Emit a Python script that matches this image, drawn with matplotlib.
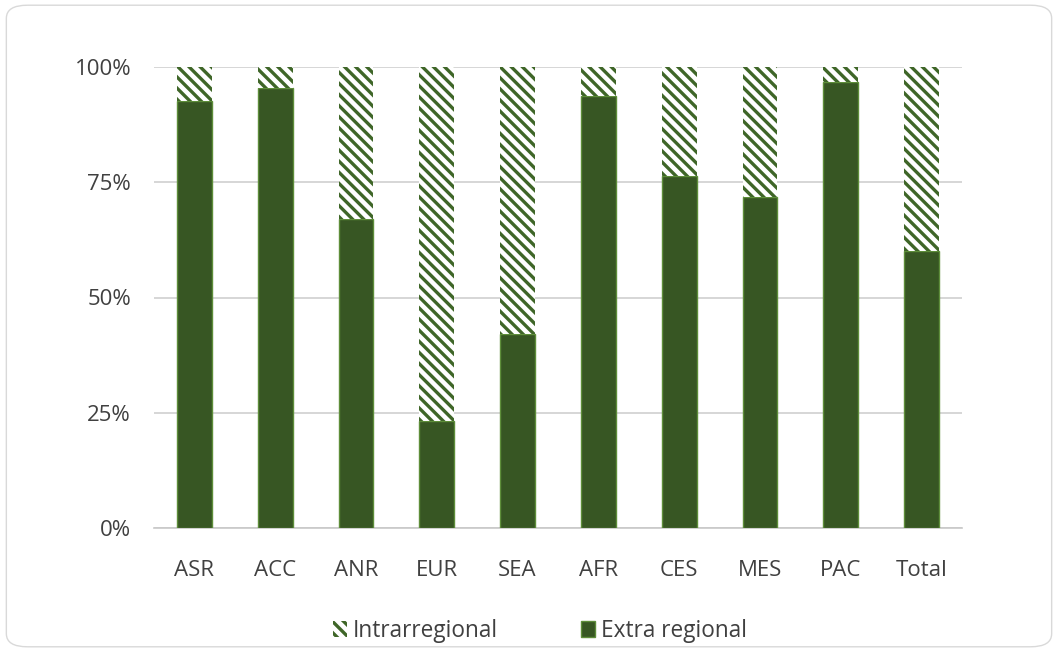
import matplotlib
matplotlib.use("Agg")
import matplotlib.pyplot as plt
from matplotlib.patches import FancyBboxPatch
import numpy as np

categories = ["ASR", "ACC", "ANR", "EUR", "SEA", "AFR", "CES", "MES", "PAC", "Total"]
extra_regional = [92.6, 95.4, 67.0, 23.2, 42.1, 93.7, 76.4, 71.8, 96.7, 60.1]
intra_regional = [100 - v for v in extra_regional]
yticks = [0, 25, 50, 75, 100]
ytick_labels = ["0%", "25%", "50%", "75%", "100%"]

plt.rcParams['font.family'] = ['Open Sans', 'DejaVu Sans']
plt.rcParams['hatch.linewidth'] = 2.4

dark = "#375623"
edge = "#5E8E3A"
hatch_col = "#3F6628"
txt = "#404040"

fig = plt.figure(figsize=(10.58, 6.52), dpi=100)
border = FancyBboxPatch((0.006, 0.008), 0.988, 0.984, boxstyle="round,pad=0,rounding_size=0.02",
                        transform=fig.transFigure, fill=False, edgecolor="#d9d9d9", linewidth=1.0)
fig.patches.append(border)

ax = fig.add_axes([154/1058, 1 - 528/652, (962-154)/1058, (528-67)/652])
x = np.arange(len(categories))
w = 0.43
ax.bar(x, extra_regional, width=w, color=dark, edgecolor=edge, linewidth=1.0,
       label="Extra regional", zorder=3)
plt.rcParams['hatch.color'] = hatch_col
ax.bar(x, intra_regional, width=w, bottom=extra_regional, color="white",
       edgecolor=hatch_col, hatch="\\\\\\", linewidth=0, label="Intrarregional", zorder=3)

ax.set_xlim(-0.5, len(categories) - 0.5)
ax.set_ylim(0, 100)
ax.set_yticks(yticks)
ax.set_yticklabels(ytick_labels)
ax.set_xticks(x)
ax.set_xticklabels(categories)
ax.tick_params(axis='both', length=0, labelsize=16, colors=txt)
ax.tick_params(axis='x', pad=23)
ax.tick_params(axis='y', pad=16.5)
ax.grid(axis='y', color="#d0d0d0", linewidth=1.2, zorder=0)
for s in ["top", "right"]:
    ax.spines[s].set_visible(False)
ax.spines["left"].set_visible(False)
ax.spines["bottom"].set_color("#c8c8c8")
ax.spines["bottom"].set_linewidth(1.2)

handles, labels = ax.get_legend_handles_labels()
leg = fig.legend(handles[::-1], labels[::-1], loc="center", bbox_to_anchor=(0.5 + 11/1058, 1 - 631/652),
                 ncol=2, frameon=False, fontsize=16.3, handlelength=0.6, handleheight=0.75,
                 handletextpad=0.25, columnspacing=3.7)
for t in leg.get_texts():
    t.set_color(txt)

fig.savefig("out.png", dpi=100)
